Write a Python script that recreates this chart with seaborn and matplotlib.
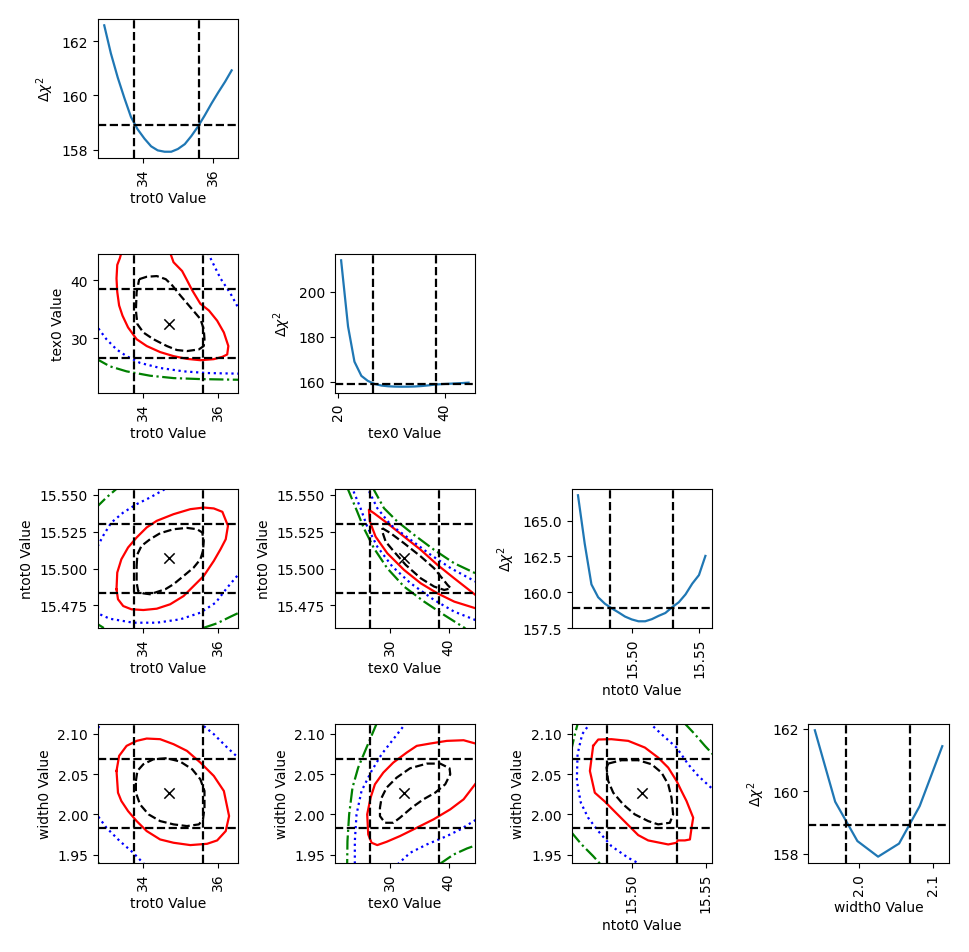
import matplotlib
matplotlib.use("Agg")
import matplotlib.pyplot as plt
import seaborn as sns

params = ["trot0", "tex0", "ntot0", "width0"]

# 1-D chi^2 profiles
trot_grid = [32.88, 33.07, 33.27, 33.46, 33.65, 33.84, 34.04, 34.23, 34.42, 34.62,
             34.81, 35.00, 35.20, 35.39, 35.58, 35.77, 35.97, 36.16, 36.36, 36.55]
trot_chi2 = [162.58, 161.55, 160.65, 159.9, 159.2, 158.75, 158.4, 158.12, 157.97, 157.92,
             157.92, 158.02, 158.2, 158.5, 158.85, 159.25, 159.7, 160.1, 160.5, 160.92]

tex_grid = [20.6, 21.9, 23.1, 24.4, 25.6, 26.9, 28.2, 29.4, 30.7, 31.9,
            33.2, 34.4, 35.7, 37.0, 38.2, 39.5, 40.7, 42.0, 43.2, 44.5]
tex_chi2 = [213.9, 184.6, 169.0, 162.7, 160.5, 159.1, 158.4, 158.1, 157.95, 157.9,
            157.92, 158.0, 158.2, 158.5, 158.85, 159.05, 159.2, 159.35, 159.5, 159.7]

ntot_grid = [15.4597, 15.4647, 15.4697, 15.4747, 15.4797, 15.4847, 15.4897, 15.4947, 15.4997, 15.5047,
             15.5097, 15.5147, 15.5197, 15.5247, 15.5297, 15.5347, 15.5397, 15.5447, 15.5497, 15.5545]
ntot_chi2 = [166.78, 163.4, 160.55, 159.65, 159.2, 158.88, 158.6, 158.3, 158.1, 157.97,
             157.97, 158.12, 158.35, 158.55, 158.95, 159.3, 159.85, 160.6, 161.2, 162.54]

width_grid = [1.9401, 1.9676, 1.9977, 2.0257, 2.0541, 2.0820, 2.1126]
width_chi2 = [161.95, 159.66, 158.40, 157.90, 158.32, 159.52, 161.44]

chi2_cut = 158.92

# best fit and 1-sigma bounds
best = {"trot0": 34.68, "tex0": 32.4, "ntot0": 15.507, "width0": 2.026}
bounds = {"trot0": (33.74, 35.60), "tex0": (26.6, 38.45),
          "ntot0": (15.4832, 15.5303), "width0": (1.9828, 2.0690)}
grid_range = {"trot0": (32.78, 36.54), "tex0": (20.57, 44.5),
              "ntot0": (15.4597, 15.5540), "width0": (1.9397, 2.1122)}

# 2-D contours, (x, y) vertices
tex_trot_l1 = [(33.89, 40.17), (34.09, 40.58), (34.36, 40.70), (34.60, 40.17), (34.77, 39.13),
               (34.99, 37.38), (35.26, 35.35), (35.53, 33.31), (35.62, 31.57), (35.64, 29.83),
               (35.62, 28.66), (35.49, 28.08), (35.17, 27.79), (34.90, 27.97), (34.63, 28.66),
               (34.27, 29.83), (34.00, 30.99), (33.84, 32.44), (33.80, 34.77), (33.82, 37.97),
               (33.89, 40.17)]
tex_trot_l2 = [(33.41, 44.7), (33.37, 43.78), (33.30, 42.62), (33.28, 40.29), (33.30, 37.97),
               (33.35, 35.64), (33.44, 33.90), (33.59, 31.86), (33.82, 29.83), (34.09, 28.66),
               (34.45, 27.62), (34.81, 26.92), (35.17, 26.45), (35.53, 26.22), (35.89, 26.40),
               (36.12, 26.80), (36.25, 27.21), (36.28, 28.66), (36.16, 30.99), (35.98, 33.02),
               (35.76, 34.77), (35.53, 35.93), (35.31, 38.26), (35.17, 40.0), (35.04, 41.57),
               (34.81, 43.08), (34.72, 44.7)]
tex_trot_l3a = [(32.7, 32.5), (33.01, 29.83), (33.28, 28.08), (33.55, 26.92), (33.91, 25.76),
                (34.45, 24.88), (35.08, 24.30), (35.71, 24.01), (36.6, 23.90)]
tex_trot_l3b = [(35.73, 44.7), (35.89, 42.62), (36.07, 40.29), (36.34, 37.67), (36.6, 34.6)]
tex_trot_l4 = [(32.7, 26.6), (33.10, 25.17), (33.55, 24.30), (34.18, 23.55), (34.81, 23.14),
               (35.53, 22.97), (36.6, 22.85)]

ntot_trot_l1 = [(33.82, 15.5018), (33.84, 15.5097), (33.95, 15.5154), (34.18, 15.5199), (34.45, 15.5240),
                (34.81, 15.5267), (35.17, 15.5276), (35.44, 15.5267), (35.58, 15.5245), (35.62, 15.5188),
                (35.60, 15.5120), (35.53, 15.5063), (35.35, 15.5007), (35.08, 15.4950), (34.81, 15.4894),
                (34.59, 15.4860), (34.36, 15.4841), (34.18, 15.4826), (34.00, 15.4832), (33.86, 15.4848),
                (33.82, 15.4905), (33.82, 15.5018)]
ntot_trot_l2 = [(33.28, 15.4860), (33.30, 15.4973), (33.41, 15.5063), (33.59, 15.5143), (33.82, 15.5211),
                (34.09, 15.5279), (34.36, 15.5324), (34.81, 15.5369), (35.26, 15.5403), (35.62, 15.5414),
                (35.89, 15.5408), (36.12, 15.5385), (36.27, 15.5290), (36.21, 15.5199), (36.07, 15.5131),
                (35.89, 15.5052), (35.62, 15.4950), (35.35, 15.4882), (35.08, 15.4814), (34.72, 15.4758),
                (34.36, 15.4728), (34.00, 15.4719), (33.68, 15.4724), (33.46, 15.4746), (33.32, 15.4792),
                (33.28, 15.4860)]
ntot_trot_l3a = [(32.7, 15.5115), (32.92, 15.5222), (33.14, 15.5312), (33.46, 15.5380), (33.82, 15.5437),
                 (34.18, 15.5482), (34.62, 15.5545)]
ntot_trot_l3b = [(32.7, 15.4705), (33.10, 15.4660), (33.73, 15.4633), (34.36, 15.4633), (34.99, 15.4656),
                 (35.53, 15.4701), (35.94, 15.4769), (36.25, 15.4871), (36.6, 15.4975)]
ntot_trot_l4a = [(32.7, 15.5405), (33.01, 15.5482), (33.30, 15.5545)]
ntot_trot_l4b = [(32.7, 15.4635), (32.94, 15.4597)]
ntot_trot_l4c = [(35.60, 15.4597), (35.98, 15.4629), (36.34, 15.4674), (36.6, 15.4705)]

ntot_tex_l1 = [(28.69, 15.5274), (30.11, 15.5240), (32.4, 15.5172), (35.26, 15.5082), (37.54, 15.5002),
               (39.83, 15.4889), (40.4, 15.4866), (39.26, 15.4855), (37.54, 15.4878), (35.26, 15.4934),
               (32.69, 15.5025), (30.69, 15.5115), (29.26, 15.5183), (28.69, 15.5251), (28.69, 15.5274)]
ntot_tex_l2 = [(44.6, 15.4821), (40.97, 15.4934), (38.11, 15.5025), (35.26, 15.5127), (32.4, 15.5217),
               (29.54, 15.5308), (27.26, 15.5376), (26.4, 15.5399), (26.57, 15.5319), (27.54, 15.5217),
               (29.54, 15.5104), (32.4, 15.4991), (35.26, 15.4900), (38.11, 15.4832), (40.97, 15.4776),
               (44.6, 15.4731)]
ntot_tex_l3a = [(26.0, 15.5560), (27.83, 15.5410), (30.11, 15.5297), (33.54, 15.5195), (36.97, 15.5093),
                (40.4, 15.5002), (44.6, 15.4912)]
ntot_tex_l3b = [(23.4, 15.5560), (24.97, 15.5410), (26.11, 15.5285), (27.83, 15.5149), (30.4, 15.5014),
                (33.54, 15.4900), (37.54, 15.4787), (40.97, 15.4708), (44.6, 15.4651)]
ntot_tex_l4a = [(26.9, 15.5560), (28.97, 15.5410), (31.26, 15.5319), (34.11, 15.5229), (37.54, 15.5127),
                (40.97, 15.5036), (44.6, 15.4968)]
ntot_tex_l4b = [(22.6, 15.5560), (24.4, 15.5387), (25.54, 15.5274), (27.26, 15.5138), (29.54, 15.5002),
                (32.4, 15.4878), (35.83, 15.4776), (39.26, 15.4685), (42.69, 15.4599), (43.2, 15.4580)]

width_trot_l1 = [(33.80, 2.0415), (33.84, 2.0539), (34.00, 2.0622), (34.27, 2.0684), (34.63, 2.0697),
                 (34.99, 2.0655), (35.31, 2.0560), (35.53, 2.0435), (35.64, 2.0290), (35.64, 2.0083),
                 (35.60, 1.9938), (35.49, 1.9876), (35.17, 1.9855), (34.81, 1.9876), (34.45, 1.9917),
                 (34.14, 2.0000), (33.91, 2.0124), (33.80, 2.0270), (33.80, 2.0415)]
width_trot_l2 = [(33.28, 2.0539), (33.35, 2.0726), (33.55, 2.0850), (33.82, 2.0912), (34.09, 2.0941),
                 (34.45, 2.0933), (34.81, 2.0871), (35.17, 2.0788), (35.53, 2.0643), (35.89, 2.0477),
                 (36.16, 2.0290), (36.30, 1.9979), (36.21, 1.9793), (35.98, 1.9677), (35.71, 1.9635),
                 (35.26, 1.9619), (34.81, 1.9648), (34.45, 1.9689), (34.09, 1.9793), (33.82, 1.9917),
                 (33.59, 2.0041), (33.41, 2.0166), (33.32, 2.0269), (33.28, 2.0539)]
width_trot_l3a = [(35.50, 2.1140), (35.89, 2.0995), (36.25, 2.0829), (36.6, 2.0680)]
width_trot_l3b = [(32.7, 2.1010), (32.88, 2.1140)]
width_trot_l3c = [(32.7, 2.0030), (33.01, 1.9834), (33.37, 1.9668), (33.73, 1.9523), (34.03, 1.9380)]
width_trot_l4 = [(32.7, 1.9450), (32.83, 1.9380)]

width_tex_l1 = [(28.57, 2.0207), (29.43, 2.0332), (31.14, 2.0456), (33.43, 2.0572), (36.29, 2.0630),
                (38.57, 2.0630), (40.17, 2.0572), (40.29, 2.0498), (39.43, 2.0373), (37.71, 2.0269),
                (35.71, 2.0187), (33.71, 2.0083), (31.71, 1.9959), (30.57, 1.9896), (29.14, 1.9896),
                (28.29, 1.9979), (28.29, 2.0083), (28.57, 2.0207)]
width_tex_l2 = [(44.6, 2.0879), (42.57, 2.0920), (39.71, 2.0912), (36.86, 2.0879), (34.57, 2.0850),
                (32.86, 2.0767), (30.57, 2.0643), (28.86, 2.0518), (27.43, 2.0373), (26.69, 2.0207),
                (26.11, 2.0000), (26.29, 1.9751), (26.86, 1.9648), (27.83, 1.9619), (29.43, 1.9660),
                (31.71, 1.9731), (34.57, 1.9834), (37.43, 1.9938), (40.29, 2.0062), (42.57, 2.0187),
                (44.6, 2.0380)]
width_tex_l3a = [(32.8, 2.1140), (30.57, 2.0933), (28.57, 2.0746), (26.86, 2.0539), (25.14, 2.0290),
                 (24.29, 2.0000), (24.0, 1.9668), (24.0, 1.9380)]
width_tex_l3b = [(31.3, 1.9380), (33.43, 1.9523), (36.29, 1.9627), (39.71, 1.9731), (42.0, 1.9813),
                 (44.6, 1.9930)]
width_tex_l4a = [(27.8, 2.1140), (26.0, 2.0829), (24.57, 2.0580), (23.6, 2.0332), (23.03, 2.0000),
                 (22.74, 1.9668), (22.69, 1.9380)]
width_tex_l4b = [(38.4, 1.9380), (40.86, 1.9502), (43.14, 1.9577), (44.6, 1.9615)]

width_ntot_l1 = [(15.4843, 2.0630), (15.4933, 2.0672), (15.5045, 2.0672), (15.5135, 2.0622), (15.5202, 2.0518),
                 (15.5247, 2.0373), (15.5269, 2.0207), (15.5280, 2.0000), (15.5258, 1.9896), (15.5179, 1.9876),
                 (15.5112, 1.9917), (15.5022, 2.0000), (15.4944, 2.0124), (15.4877, 2.0269), (15.4843, 2.0415),
                 (15.4832, 2.0580), (15.4843, 2.0630)]
width_ntot_l2 = [(15.4742, 2.0850), (15.4776, 2.0929), (15.4865, 2.0933), (15.4978, 2.0912), (15.5090, 2.0829),
                 (15.5179, 2.0705), (15.5247, 2.0580), (15.5303, 2.0415), (15.5336, 2.0290), (15.5370, 2.0166),
                 (15.5415, 1.9959), (15.5404, 1.9834), (15.5393, 1.9689), (15.5359, 1.9677), (15.5310, 1.9677),
                 (15.5303, 1.9648), (15.5247, 1.9627), (15.5112, 1.9677), (15.5045, 1.9743), (15.4978, 1.9867),
                 (15.4888, 2.0033), (15.4821, 2.0158), (15.4753, 2.0269), (15.4720, 2.0539), (15.4742, 2.0850)]
width_ntot_l3a = [(15.4725, 2.1140), (15.4668, 2.0995), (15.4637, 2.0746), (15.4632, 2.0415), (15.4659, 2.0145),
                  (15.4708, 1.9959), (15.4776, 1.9793), (15.4865, 1.9606), (15.4978, 1.9461), (15.5060, 1.9380)]
width_ntot_l3b = [(15.5118, 2.1140), (15.5202, 2.0995), (15.5303, 2.0829), (15.5381, 2.0622), (15.5449, 2.0477),
                  (15.5560, 2.0290)]
width_ntot_l4a = [(15.4590, 2.0760), (15.4619, 2.0995), (15.4640, 2.1140)]
width_ntot_l4b = [(15.4590, 1.9790), (15.4664, 1.9627), (15.4742, 1.9482), (15.4792, 1.9380)]
width_ntot_l4c = [(15.5352, 2.1140), (15.5426, 2.0995), (15.5494, 2.0850), (15.5560, 2.0720)]

contours = {
    (1, 0): [(tex_trot_l1, "k", "--"), (tex_trot_l2, "r", "-"), (tex_trot_l3a, "b", ":"),
             (tex_trot_l3b, "b", ":"), (tex_trot_l4, "g", "-.")],
    (2, 0): [(ntot_trot_l1, "k", "--"), (ntot_trot_l2, "r", "-"), (ntot_trot_l3a, "b", ":"),
             (ntot_trot_l3b, "b", ":"), (ntot_trot_l4a, "g", "-."), (ntot_trot_l4b, "g", "-."),
             (ntot_trot_l4c, "g", "-.")],
    (2, 1): [(ntot_tex_l1, "k", "--"), (ntot_tex_l2, "r", "-"), (ntot_tex_l3a, "b", ":"),
             (ntot_tex_l3b, "b", ":"), (ntot_tex_l4a, "g", "-."), (ntot_tex_l4b, "g", "-.")],
    (3, 0): [(width_trot_l1, "k", "--"), (width_trot_l2, "r", "-"), (width_trot_l3a, "b", ":"),
             (width_trot_l3b, "b", ":"), (width_trot_l3c, "b", ":"), (width_trot_l4, "g", "-.")],
    (3, 1): [(width_tex_l1, "k", "--"), (width_tex_l2, "r", "-"), (width_tex_l3a, "b", ":"),
             (width_tex_l3b, "b", ":"), (width_tex_l4a, "g", "-."), (width_tex_l4b, "g", "-.")],
    (3, 2): [(width_ntot_l1, "k", "--"), (width_ntot_l2, "r", "-"), (width_ntot_l3a, "b", ":"),
             (width_ntot_l3b, "b", ":"), (width_ntot_l4a, "g", "-."), (width_ntot_l4b, "g", "-."),
             (width_ntot_l4c, "g", "-.")],
}

profiles = {"trot0": (trot_grid, trot_chi2), "tex0": (tex_grid, tex_chi2),
            "ntot0": (ntot_grid, ntot_chi2), "width0": (width_grid, width_chi2)}

xticks_2d = {"trot0": [34, 36], "tex0": [30, 40], "ntot0": [15.50, 15.55]}
yticks_2d = {"tex0": [30, 40], "ntot0": [15.475, 15.5, 15.525, 15.55],
             "width0": [1.95, 2.0, 2.05, 2.1]}
xticks_prof = {"trot0": [34, 36], "tex0": [20, 40], "ntot0": [15.50, 15.55], "width0": [2.0, 2.1]}
yticks_prof = {"trot0": [158, 160, 162], "tex0": [160, 180, 200],
               "ntot0": [157.5, 160.0, 162.5, 165.0], "width0": [158, 160, 162]}
xfmt = {"trot0": "{:.0f}", "tex0": "{:.0f}", "ntot0": "{:.2f}", "width0": "{:.1f}"}
yfmt_2d = {"tex0": "{:.0f}", "ntot0": "{:.3f}", "width0": "{:.2f}"}
yfmt_prof = {"trot0": "{:.0f}", "tex0": "{:.0f}", "ntot0": "{:.1f}", "width0": "{:.0f}"}

fig, axes = plt.subplots(4, 4, figsize=(9.69, 9.53), dpi=100)
fig.subplots_adjust(left=0.101, right=0.979, bottom=0.0934, top=0.979, wspace=0.69, hspace=0.69)

for i in range(4):
    for j in range(4):
        ax = axes[i][j]
        px = params[j]
        if j > i:
            ax.set_visible(False)
            continue
        if i == j:
            grid, chi2 = profiles[px]
            sns.lineplot(x=grid, y=chi2, ax=ax, color="#1f77b4", lw=1.6)
            for b in bounds[px]:
                ax.axvline(b, color="k", ls="--", lw=1.6)
            ax.axhline(chi2_cut, color="k", ls="--", lw=1.6)
            ax.set_xticks(xticks_prof[px])
            ax.set_xticklabels([xfmt[px].format(t) for t in xticks_prof[px]])
            ax.set_yticks(yticks_prof[px])
            ax.set_yticklabels([yfmt_prof[px].format(t) for t in yticks_prof[px]])
            ax.set_ylabel(r"$\Delta\chi^2$")
        else:
            py = params[i]
            for verts, col, ls in contours[(i, j)]:
                xs = [v[0] for v in verts]
                ys = [v[1] for v in verts]
                sns.lineplot(x=xs, y=ys, ax=ax, sort=False, estimator=None,
                             color=col, linestyle=ls, lw=1.6)
            for b in bounds[px]:
                ax.axvline(b, color="k", ls="--", lw=1.6)
            for b in bounds[py]:
                ax.axhline(b, color="k", ls="--", lw=1.6)
            sns.scatterplot(x=[best[px]], y=[best[py]], ax=ax, marker="x",
                            color="k", s=55, linewidth=1.1)
            ax.set_xlim(grid_range[px])
            ax.set_ylim(grid_range[py])
            ax.set_xticks(xticks_2d[px])
            ax.set_xticklabels([xfmt[px].format(t) for t in xticks_2d[px]])
            ax.set_yticks(yticks_2d[py])
            ax.set_yticklabels([yfmt_2d[py].format(t) for t in yticks_2d[py]])
            ax.set_ylabel(py + " Value")
        ax.set_xlabel(px + " Value")
        ax.tick_params(axis="x", labelrotation=90)

fig.savefig("out.png", dpi=100)
